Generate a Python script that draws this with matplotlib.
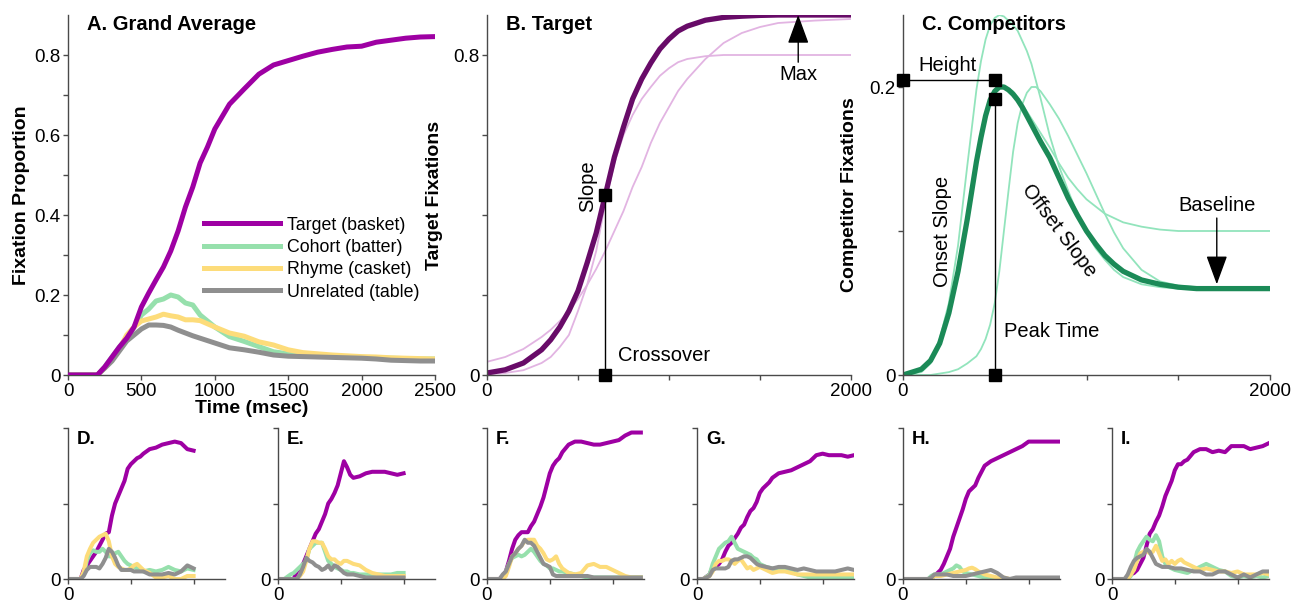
import matplotlib
matplotlib.use("Agg")
import matplotlib.pyplot as plt
from matplotlib.ticker import FixedLocator, FixedFormatter

plt.rcParams['font.family'] = ['Liberation Sans', 'DejaVu Sans']

# ---------------- data ----------------
# A. grand average (ms, proportion)
A_time = [0, 100, 200, 250, 300, 350, 400, 450, 500, 550, 600, 650, 700, 750, 800, 850,
          900, 950, 1000, 1100, 1200, 1300, 1400, 1500, 1600, 1700, 1800, 1900, 2000,
          2100, 2200, 2300, 2400, 2500]
A_target = [0, 0, 0, 0.02, 0.045, 0.07, 0.092, 0.12, 0.17, 0.205, 0.238, 0.27, 0.31, 0.36,
            0.42, 0.47, 0.53, 0.57, 0.615, 0.677, 0.715, 0.752, 0.775, 0.786, 0.797, 0.807,
            0.814, 0.82, 0.822, 0.832, 0.837, 0.842, 0.845, 0.846]
A_cohort = [0, 0, 0, 0.02, 0.045, 0.07, 0.092, 0.12, 0.15, 0.165, 0.185, 0.19, 0.2, 0.195,
            0.18, 0.175, 0.15, 0.135, 0.12, 0.096, 0.084, 0.071, 0.058, 0.053, 0.05, 0.048,
            0.046, 0.045, 0.044, 0.043, 0.042, 0.041, 0.04, 0.04]
A_rhyme = [0, 0, 0, 0.018, 0.04, 0.065, 0.1, 0.12, 0.135, 0.14, 0.145, 0.152, 0.148, 0.145,
           0.138, 0.138, 0.136, 0.128, 0.12, 0.105, 0.097, 0.083, 0.075, 0.063, 0.056, 0.053,
           0.05, 0.048, 0.046, 0.045, 0.043, 0.042, 0.041, 0.04]
A_unrelated = [0, 0, 0, 0.017, 0.035, 0.06, 0.085, 0.1, 0.115, 0.125, 0.125, 0.124, 0.12,
               0.112, 0.105, 0.098, 0.092, 0.086, 0.08, 0.068, 0.063, 0.057, 0.05, 0.047,
               0.046, 0.045, 0.044, 0.043, 0.042, 0.04, 0.037, 0.036, 0.035, 0.035]
legend_labels = ['Target (basket)', 'Cohort (batter)', 'Rhyme (casket)', 'Unrelated (table)']

# B. target model curves
B_time = [0, 100, 200, 300, 350, 400, 450, 500, 550, 600, 650, 700, 750, 800, 850, 900, 950,
          1000, 1050, 1100, 1200, 1300, 1400, 1500, 1600, 1800, 2000]
B_main = [0.005, 0.013, 0.03, 0.063, 0.088, 0.12, 0.16, 0.21, 0.28, 0.355, 0.45, 0.545, 0.62,
          0.69, 0.74, 0.78, 0.815, 0.84, 0.86, 0.872, 0.887, 0.894, 0.897, 0.899, 0.9, 0.9, 0.9]
B_steep = [0.002, 0.005, 0.012, 0.03, 0.045, 0.07, 0.1, 0.16, 0.225, 0.31, 0.43, 0.53, 0.6,
           0.65, 0.69, 0.72, 0.748, 0.767, 0.782, 0.79, 0.797, 0.8, 0.8, 0.8, 0.8, 0.8, 0.8]
B_shallow = [0.033, 0.045, 0.065, 0.095, 0.113, 0.135, 0.16, 0.19, 0.225, 0.265, 0.31, 0.36,
             0.41, 0.47, 0.52, 0.58, 0.63, 0.67, 0.71, 0.74, 0.79, 0.83, 0.855, 0.87, 0.88,
             0.886, 0.89]
B_crossover = 648
B_half = 0.45
B_max_time = 1710
B_max = 0.9

# C. competitor model curves
C_time = [0, 100, 150, 200, 250, 300, 350, 400, 425, 450, 475, 500, 525, 550, 575, 600, 625,
          650, 675, 700, 725, 750, 800, 850, 900, 950, 1000, 1050, 1100, 1150, 1200, 1300,
          1400, 1500, 1600, 1800, 2000]
C_main = [0, 0.004, 0.01, 0.022, 0.043, 0.072, 0.108, 0.148, 0.165, 0.18, 0.191, 0.197, 0.2,
          0.2, 0.198, 0.195, 0.191, 0.186, 0.18, 0.174, 0.168, 0.162, 0.151, 0.137, 0.123,
          0.111, 0.1, 0.091, 0.083, 0.077, 0.072, 0.066, 0.063, 0.061, 0.06, 0.06, 0.06]
C_tall = [0, 0.002, 0.008, 0.025, 0.05, 0.09, 0.145, 0.198, 0.218, 0.233, 0.243, 0.248, 0.25,
          0.249, 0.246, 0.243, 0.239, 0.232, 0.225, 0.216, 0.204, 0.192, 0.166, 0.145, 0.128,
          0.112, 0.099, 0.088, 0.08, 0.073, 0.068, 0.063, 0.061, 0.06, 0.06, 0.06, 0.06]
C_late = [0, 0, 0, 0.001, 0.002, 0.004, 0.008, 0.013, 0.018, 0.025, 0.035, 0.05, 0.072, 0.1,
          0.128, 0.155, 0.175, 0.188, 0.196, 0.2, 0.2, 0.197, 0.188, 0.178, 0.166, 0.153,
          0.14, 0.126, 0.112, 0.099, 0.088, 0.073, 0.065, 0.062, 0.061, 0.06, 0.06]
C_slow = [0, 0.004, 0.01, 0.022, 0.043, 0.072, 0.108, 0.148, 0.165, 0.18, 0.191, 0.197, 0.2,
          0.2, 0.199, 0.197, 0.193, 0.188, 0.183, 0.178, 0.173, 0.168, 0.158, 0.147, 0.137,
          0.129, 0.122, 0.117, 0.112, 0.109, 0.106, 0.103, 0.101, 0.1, 0.1, 0.1, 0.1]
C_peak_time = 500
C_height = 0.205
C_peak_mark = 0.192
C_base_time = 1710
C_base = 0.063

# D-I. individual participants
bt = [0, 100, 200, 250, 300, 350, 400, 450, 500, 550, 600, 650, 700, 750, 800, 850, 900,
      950, 1000, 1050, 1100, 1150, 1200, 1300, 1400, 1500, 1600, 1700, 1800, 1900, 2000]
bt_long = bt + [2100, 2200, 2300, 2400, 2500]
bt_F = bt + [2100, 2200, 2300, 2450]

D_target = [0, 0, 0, 0.06, 0.09, 0.12, 0.15, 0.18, 0.22, 0.26, 0.3, 0.31, 0.42, 0.5, 0.55,
            0.6, 0.65, 0.73, 0.76, 0.78, 0.8, 0.81, 0.83, 0.86, 0.87, 0.89, 0.9, 0.91, 0.9,
            0.86, 0.85]
D_cohort = [0, 0, 0, 0.03, 0.12, 0.17, 0.19, 0.18, 0.18, 0.2, 0.18, 0.15, 0.15, 0.17, 0.18,
            0.15, 0.12, 0.1, 0.09, 0.08, 0.07, 0.06, 0.05, 0.06, 0.05, 0.06, 0.08, 0.06, 0.05,
            0.07, 0.06]
D_rhyme = [0, 0, 0, 0.05, 0.15, 0.2, 0.24, 0.26, 0.28, 0.29, 0.3, 0.25, 0.15, 0.1, 0.08, 0.07,
           0.06, 0.06, 0.07, 0.09, 0.1, 0.08, 0.06, 0.04, 0.01, 0.01, 0.02, 0, 0, 0.02, 0.02]
D_unrelated = [0, 0, 0, 0.02, 0.06, 0.08, 0.08, 0.08, 0.07, 0.1, 0.14, 0.2, 0.18, 0.14, 0.09,
               0.06, 0.06, 0.06, 0.06, 0.05, 0.05, 0.05, 0.05, 0.03, 0.03, 0.03, 0.04, 0.03,
               0.05, 0.09, 0.07]

E_target = [0, 0, 0, 0, 0.05, 0.07, 0.1, 0.15, 0.2, 0.25, 0.3, 0.33, 0.38, 0.43, 0.5, 0.53,
            0.57, 0.62, 0.7, 0.78, 0.74, 0.69, 0.67, 0.68, 0.7, 0.71, 0.71, 0.71, 0.7, 0.69, 0.7]
E_cohort = [0, 0, 0.03, 0.04, 0.06, 0.08, 0.1, 0.12, 0.2, 0.22, 0.24, 0.24, 0.24, 0.18, 0.12,
            0.1, 0.08, 0.07, 0.06, 0.05, 0.05, 0.04, 0.04, 0.03, 0.03, 0.03, 0.03, 0.03, 0.03,
            0.04, 0.04]
E_rhyme = [0, 0, 0, 0, 0, 0.02, 0.05, 0.12, 0.2, 0.25, 0.25, 0.24, 0.24, 0.2, 0.15, 0.13,
           0.13, 0.11, 0.1, 0.12, 0.12, 0.11, 0.1, 0.09, 0.06, 0.04, 0.03, 0.02, 0.02, 0.02,
           0.02]
E_unrelated = [0, 0, 0, 0, 0, 0.03, 0.08, 0.14, 0.12, 0.11, 0.09, 0.08, 0.06, 0.07, 0.09,
               0.06, 0.09, 0.08, 0.06, 0.04, 0.03, 0.03, 0.03, 0.02, 0.01, 0.01, 0.01, 0.01,
               0.01, 0.01, 0.01]

F_target = [0, 0, 0, 0.02, 0.05, 0.12, 0.2, 0.26, 0.29, 0.31, 0.31, 0.31, 0.35, 0.38, 0.43,
            0.48, 0.54, 0.62, 0.7, 0.75, 0.78, 0.8, 0.84, 0.89, 0.91, 0.91, 0.9, 0.89, 0.89,
            0.9, 0.91, 0.92, 0.95, 0.97, 0.97]
F_cohort = [0, 0, 0, 0, 0.05, 0.1, 0.14, 0.15, 0.16, 0.15, 0.16, 0.18, 0.2, 0.18, 0.15, 0.12,
            0.1, 0.09, 0.07, 0.07, 0.06, 0.05, 0.05, 0.04, 0.03, 0.02, 0.01, 0.01, 0.01, 0.01,
            0.01, 0.01, 0.01, 0.01, 0.01]
F_rhyme = [0, 0, 0, 0, 0.02, 0.08, 0.15, 0.17, 0.2, 0.22, 0.25, 0.26, 0.26, 0.26, 0.22, 0.2,
           0.17, 0.13, 0.12, 0.13, 0.15, 0.1, 0.07, 0.04, 0.03, 0.04, 0.09, 0.1, 0.08, 0.08,
           0.06, 0.04, 0.02, 0.01, 0.01]
F_unrelated = [0, 0, 0, 0.03, 0.05, 0.1, 0.15, 0.17, 0.2, 0.22, 0.26, 0.24, 0.24, 0.22, 0.18,
               0.14, 0.1, 0.09, 0.08, 0.03, 0.02, 0.02, 0.02, 0.02, 0.02, 0.02, 0.02, 0.01,
               0.01, 0.01, 0.01, 0.01, 0.01, 0.01, 0.01]

G_target = [0, 0, 0.03, 0.08, 0.08, 0.1, 0.13, 0.18, 0.22, 0.24, 0.27, 0.3, 0.34, 0.36, 0.41,
            0.45, 0.47, 0.51, 0.57, 0.6, 0.62, 0.64, 0.67, 0.7, 0.71, 0.72, 0.74, 0.76, 0.78,
            0.82, 0.83, 0.82, 0.82, 0.82, 0.81, 0.82]
G_cohort = [0, 0, 0.03, 0.1, 0.15, 0.2, 0.22, 0.24, 0.25, 0.28, 0.24, 0.2, 0.19, 0.18, 0.17,
            0.16, 0.14, 0.13, 0.1, 0.09, 0.08, 0.075, 0.07, 0.06, 0.06, 0.05, 0.03, 0.02,
            0.01, 0.01, 0.01, 0.01, 0.01, 0.01, 0.01, 0.01]
G_rhyme = [0, 0, 0.02, 0.05, 0.1, 0.12, 0.12, 0.13, 0.13, 0.12, 0.1, 0.12, 0.13, 0.1, 0.07,
           0.08, 0.06, 0.07, 0.08, 0.07, 0.06, 0.05, 0.04, 0.05, 0.05, 0.04, 0.03, 0.03, 0.03,
           0.03, 0.03, 0.03, 0.03, 0.03, 0.03, 0.03]
G_unrelated = [0, 0, 0.02, 0.06, 0.07, 0.07, 0.07, 0.07, 0.08, 0.12, 0.13, 0.13, 0.14, 0.15,
               0.15, 0.14, 0.12, 0.1, 0.09, 0.085, 0.08, 0.075, 0.07, 0.08, 0.08, 0.07, 0.06,
               0.07, 0.06, 0.05, 0.05, 0.05, 0.05, 0.06, 0.07, 0.06]

H_target = [0, 0, 0, 0, 0, 0, 0, 0.01, 0.02, 0.04, 0.06, 0.1, 0.15, 0.2, 0.28, 0.34, 0.4,
            0.46, 0.53, 0.58, 0.6, 0.62, 0.67, 0.75, 0.78, 0.8, 0.82, 0.84, 0.86, 0.88, 0.91,
            0.91, 0.91, 0.91, 0.91, 0.91]
H_cohort = [0, 0, 0, 0, 0, 0, 0, 0.02, 0.03, 0.03, 0.03, 0.04, 0.05, 0.06, 0.07, 0.09, 0.08,
            0.05, 0.04, 0.035, 0.03, 0.025, 0.02, 0.01, 0, 0, 0, 0, 0, 0, 0, 0, 0, 0, 0, 0]
H_rhyme = [0, 0, 0, 0, 0, 0, 0, 0, 0.02, 0.02, 0.02, 0.025, 0.03, 0.035, 0.04, 0.045, 0.05,
           0.055, 0.06, 0.07, 0.075, 0.065, 0.05, 0.03, 0.02, 0.01, 0.01, 0, 0, 0, 0, 0, 0,
           0, 0, 0]
H_unrelated = [0, 0, 0, 0, 0, 0, 0, 0.01, 0.03, 0.03, 0.03, 0.03, 0.03, 0.025, 0.02, 0.02,
               0.02, 0.02, 0.02, 0.025, 0.03, 0.035, 0.04, 0.05, 0.06, 0.04, 0.01, 0, 0.01,
               0.01, 0.01, 0.01, 0.01, 0.01, 0.01, 0.01]

I_target = [0, 0, 0, 0, 0.03, 0.04, 0.06, 0.1, 0.14, 0.22, 0.3, 0.33, 0.38, 0.42, 0.48, 0.55,
            0.6, 0.65, 0.72, 0.76, 0.76, 0.78, 0.79, 0.84, 0.86, 0.86, 0.84, 0.85, 0.84, 0.88,
            0.88, 0.88, 0.86, 0.87, 0.88, 0.9]
I_cohort = [0, 0, 0, 0, 0.02, 0.1, 0.18, 0.22, 0.25, 0.28, 0.26, 0.25, 0.29, 0.25, 0.15, 0.1,
            0.08, 0.07, 0.06, 0.055, 0.05, 0.045, 0.04, 0.06, 0.08, 0.1, 0.08, 0.06, 0.05,
            0.02, 0.01, 0.02, 0.01, 0.02, 0.01, 0.02]
I_rhyme = [0, 0, 0, 0, 0.03, 0.06, 0.12, 0.17, 0.18, 0.19, 0.17, 0.18, 0.22, 0.17, 0.12, 0.13,
           0.1, 0.12, 0.1, 0.12, 0.13, 0.11, 0.1, 0.08, 0.06, 0.07, 0.06, 0.05, 0.05, 0.04,
           0.05, 0.03, 0.03, 0.03, 0.04, 0.03]
I_unrelated = [0, 0, 0, 0.03, 0.08, 0.12, 0.14, 0.15, 0.16, 0.2, 0.18, 0.14, 0.1, 0.09, 0.08,
               0.08, 0.08, 0.075, 0.07, 0.07, 0.07, 0.065, 0.06, 0.05, 0.05, 0.03, 0.03, 0.05,
               0.05, 0.03, 0.01, 0.03, 0.01, 0.03, 0.05, 0.05]

# ---------------- style ----------------
PURPLE = '#9e00a3'
GREEN = '#96e0ac'
YELLOW = '#fddc7a'
GRAY = '#8f8f8f'
DARK_PURPLE = '#680b68'
LIGHT_PURPLE = '#e2b4e2'
DARK_GREEN = '#1b8a57'
LIGHT_GREEN = '#92e4bc'
AXCOL = '#4a4a4a'
TICK_FS = 13.5    # tick labels
NOTE_FS = 14.5    # annotations inside B and C
TITLE_FS = 14.5   # bold panel titles
SMALL_TITLE_FS = 13.5
LABEL_FS = 14     # bold axis labels
LEG_FS = 12.8

W, H = 1300, 604
fig = plt.figure(figsize=(W / 100, H / 100), dpi=100)


def add_axes(left, right, top, bottom):
    return fig.add_axes([left / W, 1 - bottom / H, (right - left) / W, (bottom - top) / H])


def style(ax, xticks, xlabels, yticks, ylabels):
    for s in ['top', 'right']:
        ax.spines[s].set_visible(False)
    for s in ['left', 'bottom']:
        ax.spines[s].set_color(AXCOL)
        ax.spines[s].set_linewidth(1.0)
    ax.xaxis.set_major_locator(FixedLocator(xticks))
    ax.xaxis.set_major_formatter(FixedFormatter(xlabels))
    ax.yaxis.set_major_locator(FixedLocator(yticks))
    ax.yaxis.set_major_formatter(FixedFormatter(ylabels))
    ax.tick_params(direction='out', length=3.5, width=1, color=AXCOL, labelsize=TICK_FS, pad=2)


ARROW = dict(arrowstyle='-|>,head_length=1.5,head_width=0.55', color='black', lw=1,
             mutation_scale=12, shrinkA=0, shrinkB=0)

# ---------------- A ----------------
axA = add_axes(68, 435, 15, 375)
axA.plot(A_time, A_target, color=PURPLE, lw=3.6, label=legend_labels[0], zorder=3)
axA.plot(A_time, A_cohort, color=GREEN, lw=3.6, label=legend_labels[1])
axA.plot(A_time, A_rhyme, color=YELLOW, lw=3.6, label=legend_labels[2])
axA.plot(A_time, A_unrelated, color=GRAY, lw=3.6, label=legend_labels[3])
axA.set_xlim(0, 2500)
axA.set_ylim(0, 0.9)
style(axA, [0, 500, 1000, 1500, 2000, 2500], ['0', '500', '1000', '1500', '2000', '2500'],
      [0, 0.1, 0.2, 0.3, 0.4, 0.5, 0.6, 0.7, 0.8],
      ['0', '', '0.2', '', '0.4', '', '0.6', '', '0.8'])
axA.set_xlabel('Time (msec)', fontsize=LABEL_FS, fontweight='bold', labelpad=0)
axA.set_ylabel('Fixation Proportion', fontsize=LABEL_FS, fontweight='bold')
axA.yaxis.set_label_coords(-0.104, 0.5)
axA.legend(loc='upper left', bbox_to_anchor=(0.37, 0.44), frameon=False, fontsize=LEG_FS,
           handlelength=4.3, handletextpad=0.4, labelspacing=0.3, borderpad=0,
           borderaxespad=0)
fig.text(87 / W, 1 - 15 / H, 'A. Grand Average', fontsize=TITLE_FS, fontweight='bold',
         va='top')

# ---------------- B ----------------
axB = add_axes(487, 851, 15, 375)
axB.plot(B_time, B_steep, color=LIGHT_PURPLE, lw=1.3)
axB.plot(B_time, B_shallow, color=LIGHT_PURPLE, lw=1.3)
axB.plot(B_time, B_main, color=DARK_PURPLE, lw=3.8)
axB.plot([B_crossover, B_crossover], [0, B_half], color='black', lw=1)
axB.plot([B_crossover, B_crossover], [0, B_half], 's', color='black', ms=8, clip_on=False,
         zorder=5)
axB.annotate('', xy=(B_max_time, B_max), xytext=(B_max_time, 0.782), arrowprops=ARROW)
axB.text(B_max_time, 0.752, 'Max', fontsize=NOTE_FS, ha='center', va='center')
axB.text(B_crossover + 70, 0.048, 'Crossover', fontsize=NOTE_FS, ha='left', va='center')
axB.text(555, 0.472, 'Slope', fontsize=NOTE_FS, rotation=90, ha='center', va='center')
axB.set_xlim(0, 2000)
axB.set_ylim(0, 0.9)
style(axB, [0, 500, 1000, 1500, 2000], ['0', '', '', '', '2000'],
      [0, 0.2, 0.4, 0.6, 0.8], ['0', '', '', '', '0.8'])
axB.set_ylabel('Target Fixations', fontsize=LABEL_FS, fontweight='bold')
axB.yaxis.set_label_coords(-0.121, 0.5)
fig.text(506 / W, 1 - 15 / H, 'B. Target', fontsize=TITLE_FS, fontweight='bold', va='top')

# ---------------- C ----------------
axC = add_axes(903, 1270, 15, 375)
for curve in [C_tall, C_late, C_slow]:
    axC.plot(C_time, curve, color=LIGHT_GREEN, lw=1.3)
axC.plot(C_time, C_main, color=DARK_GREEN, lw=3.8)
axC.plot([0, C_peak_time], [C_height, C_height], color='black', lw=1)
axC.plot([C_peak_time, C_peak_time], [0, C_peak_mark], color='black', lw=1)
axC.plot([0, C_peak_time, C_peak_time, C_peak_time], [C_height, C_height, C_peak_mark, 0],
         's', color='black', ms=8, clip_on=False, zorder=5)
axC.annotate('', xy=(C_base_time, C_base), xytext=(C_base_time, 0.109), arrowprops=ARROW)
axC.text(C_base_time, 0.118, 'Baseline', fontsize=NOTE_FS, ha='center', va='center')
axC.text(550, 0.0305, 'Peak Time', fontsize=NOTE_FS, ha='left', va='center')
axC.text(245, 0.215, 'Height', fontsize=NOTE_FS, ha='center', va='center')
axC.text(213, 0.1, 'Onset Slope', fontsize=NOTE_FS, rotation=90, ha='center', va='center')
axC.text(852, 0.1, 'Offset Slope', fontsize=NOTE_FS, rotation=-53, ha='center', va='center')
axC.set_xlim(0, 2000)
axC.set_ylim(0, 0.25)
style(axC, [0, 500, 1000, 1500, 2000], ['0', '', '', '', '2000'],
      [0, 0.1, 0.2], ['0', '', '0.2'])
axC.set_ylabel('Competitor Fixations', fontsize=LABEL_FS, fontweight='bold')
axC.yaxis.set_label_coords(-0.123, 0.5)
fig.text(922 / W, 1 - 15 / H, 'C. Competitors', fontsize=TITLE_FS, fontweight='bold',
         va='top')

# ---------------- D-I ----------------
panels = [
    ('D.', bt, D_target, D_cohort, D_rhyme, D_unrelated),
    ('E.', bt, E_target, E_cohort, E_rhyme, E_unrelated),
    ('F.', bt_F, F_target, F_cohort, F_rhyme, F_unrelated),
    ('G.', bt_long, G_target, G_cohort, G_rhyme, G_unrelated),
    ('H.', bt_long, H_target, H_cohort, H_rhyme, H_unrelated),
    ('I.', bt_long, I_target, I_cohort, I_rhyme, I_unrelated),
]
lefts = [68, 278, 487, 697, 903, 1112]
for left, (name, t, tg, co, rh, un) in zip(lefts, panels):
    ax = add_axes(left, left + 157, 428, 579)
    ax.plot(t, tg, color=PURPLE, lw=2.9)
    ax.plot(t, co, color=GREEN, lw=2.9)
    ax.plot(t, rh, color=YELLOW, lw=2.9)
    ax.plot(t, un, color=GRAY, lw=2.9)
    ax.set_xlim(0, 2500)
    ax.set_ylim(0, 1)
    style(ax, [0, 1000, 2000], ['0', '', ''], [0, 0.5, 1], ['0', '', ''])
    fig.text((left + 9) / W, 1 - 431 / H, name, fontsize=SMALL_TITLE_FS, fontweight='bold',
             va='top')

fig.savefig('out.png', dpi=100)
